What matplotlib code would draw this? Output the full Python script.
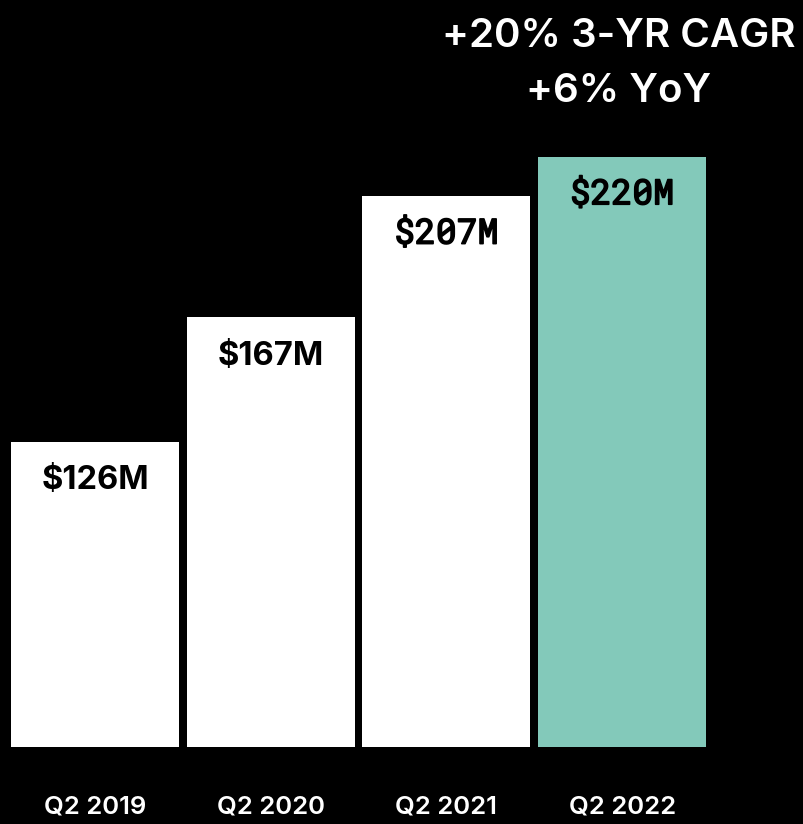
import matplotlib.pyplot as plt
import matplotlib.patheffects as effect
from matplotlib import font_manager

##### DATA #####

quarters = ["Q2 2019", "Q2 2020", "Q2 2021", "Q2 2022"]
revenue  = [126, 167, 207, 220]
labels   = ["$126M", "$167M", "$207M", "$220M"]
headline = ["+20% 3-YR CAGR", "+6% YoY"]

##### STYLE #####

bgColor   = "black"
barColors = ["white", "white", "white", "#83C9BA"]

installed = {f.name for f in font_manager.fontManager.ttflist}
monoFont  = "Roboto Mono" if "Roboto Mono" in installed else "DejaVu Sans Mono"
sansFont  = "Inter" if "Inter" in installed else "DejaVu Sans"

##### FIGURE #####

W, H = 804, 824
fig = plt.figure(figsize = (W / 100, H / 100), dpi = 100, facecolor = bgColor)

# axes spans from the bar baseline up to the top of the figure
ax = fig.add_axes([0, (H - 747) / H, 1, 747 / H])
ax.set_facecolor(bgColor)

bars = ax.bar(range(len(revenue)), revenue, width = 0.956,
              color = barColors, linewidth = 0)

ax.set_xlim(-95 / 175.7, (W - 95) / 175.7)
ax.set_ylim(25.1, 25.1 + 747 / 3.027)

for spine in ax.spines.values():
    spine.set_visible(False)
ax.set_yticks([])
ax.set_xticks(range(len(quarters)))
ax.set_xticklabels(quarters, color = "white", fontsize = 18.5,
                   family = sansFont, weight = "semibold")
ax.tick_params(axis = "x", length = 0, pad = 35)

# value labels inside the bars
for bar, lab in zip(bars, labels):
    mono = "0" in lab
    txt = ax.annotate(lab,
                xy = (bar.get_x() + bar.get_width() / 2, bar.get_height()),
                xytext = (0, -34), textcoords = "offset points",
                ha = "center", va = "baseline",
                color = "black", fontsize = 25 if mono else 23.5,
                weight = "bold", family = monoFont if mono else sansFont)
    if mono:
        # mono face has no bold weight here, thicken the strokes
        txt.set_path_effects([effect.Stroke(linewidth = 1.2, foreground = "black"),
                              effect.Normal()])

# headline above the last bar
for line, yPx in zip(headline, [47, 102]):
    fig.text(619 / W, 1 - yPx / H, line, ha = "center", va = "baseline",
             color = "white", fontsize = 29, family = sansFont,
             weight = "semibold")

fig.savefig("out.png", dpi = 100, facecolor = bgColor)
